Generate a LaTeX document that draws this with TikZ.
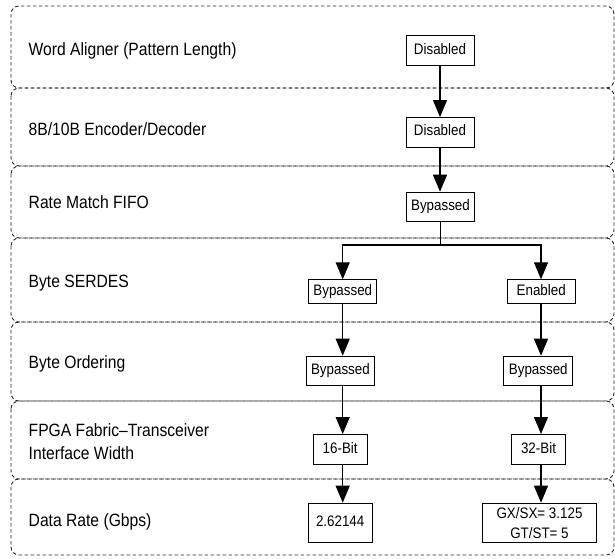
\documentclass[tikz,border=0pt]{standalone}
\usepackage{fontspec}
\setmainfont{Liberation Sans}[FakeStretch=0.88]
\usetikzlibrary{arrows.meta}
\begin{document}
\begin{tikzpicture}[x=1pt,y=-1pt,
  lane/.style={draw=black!85, line width=0.9pt, dash pattern=on 3.5pt off 2.5pt, rounded corners=8pt},
  lbl/.style={anchor=base west, inner sep=0pt, font=\fontsize{17.8}{22.7}\selectfont, text=black},
  box/.style={draw=black, line width=1pt, fill=white, inner sep=0pt, font=\fontsize{15.2}{19.3}\selectfont,
    text height=0.72em, text depth=0pt, text=black},
  mbox/.style={draw=black, line width=1pt, fill=white, inner sep=0pt, font=\fontsize{15.2}{19.3}\selectfont,
    align=center, text=black},
  conn/.style={draw=black, line width=1.1pt},
  arr/.style={conn, -{Triangle[length=17pt,width=14pt]}}
]
\useasboundingbox (0,0) rectangle (615,558);
% swim lanes
\draw[lane] (11,6)   rectangle (614,88);
\draw[lane] (11,88)  rectangle (614,166);
\draw[lane] (11,166) rectangle (614,238);
\draw[lane] (11,238) rectangle (614,322);
\draw[lane] (11,322) rectangle (614,401);
\draw[lane] (11,401) rectangle (614,479);
\draw[lane] (11,479) rectangle (614,555);
% lane labels
\node[lbl] (l1) at (28.5,55) {Word Aligner (Pattern Length)};
\node[lbl] (l2) at (28.5,135) {8B/10B Encoder/Decoder};
\node[lbl] (l3) at (28.5,208.3) {Rate Match FIFO};
\node[lbl] (l4) at (28.5,287) {Byte SERDES};
\node[lbl] (l5) at (28.5,368) {Byte Ordering};
\node[lbl, anchor=west, align=left] (l6) at (28.5,441.8) {FPGA Fabric–Transceiver\\Interface Width};
\node[lbl] (l7) at (28.5,526) {Data Rate (Gbps)};
% boxes
\node[box, minimum width=68pt, minimum height=29.5pt] (d1) at (440,50.5) {Disabled};
\node[box, minimum width=68pt, minimum height=29.5pt] (d2) at (440,132.3) {Disabled};
\node[box, minimum width=68pt, minimum height=29.6pt] (rb) at (440.5,207) {Bypassed};
\node[box, minimum width=68pt, minimum height=24pt] (sL) at (342.8,291.8) {Bypassed};
\node[box, minimum width=68pt, minimum height=24pt] (sR) at (541.2,291.8) {Enabled};
\node[box, minimum width=68.3pt, minimum height=29.6pt] (oL) at (340.4,371) {Bypassed};
\node[box, minimum width=69pt, minimum height=29.6pt] (oR) at (538.3,371) {Bypassed};
\node[box, minimum width=54pt, minimum height=30pt] (bL) at (340.2,449.5) {16-Bit};
\node[box, minimum width=54pt, minimum height=30pt] (bR) at (538.5,449.5) {32-Bit};
\node[box, minimum width=64pt, minimum height=39.6pt] (rL) at (340.2,523) {2.62144};
\node[mbox, minimum width=113.4pt, minimum height=39.6pt] (rR) at (539.5,523) {GX/SX= 3.125\\GT/ST= 5};
% columns
\coordinate (j) at (440.5,245);
\coordinate (cL) at (342.7,0);
\coordinate (cR) at (541,0);
% connectors
\draw[arr] (d1.south) -- (d1.south |- d2.north);
\draw[arr] (d2.south) -- (d2.south |- rb.north);
\draw[conn] (rb.south) -- (j);
\draw[arr] (j) -| (cL |- sL.north);
\draw[arr] (j) -| (cR |- sR.north);
\draw[arr] (cL |- sL.south) -- (cL |- oL.north);
\draw[arr] (cR |- sR.south) -- (cR |- oR.north);
\draw[arr] (cL |- oL.south) -- (cL |- bL.north);
\draw[arr] (cR |- oR.south) -- (cR |- bR.north);
\draw[arr] (cL |- bL.south) -- (cL |- rL.north);
\draw[arr] (cR |- bR.south) -- (cR |- rR.north);
\end{tikzpicture}
\end{document}
